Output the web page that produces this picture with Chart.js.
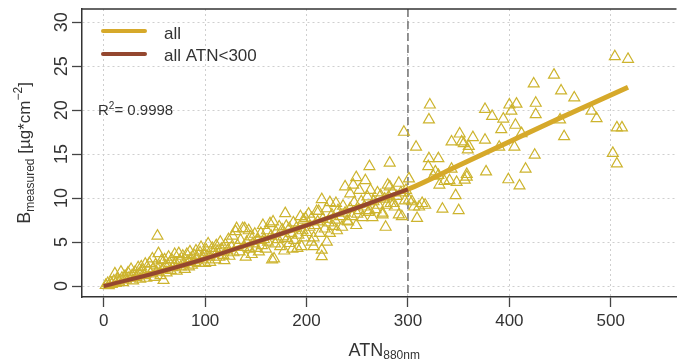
<!DOCTYPE html>
<html><head><meta charset="utf-8">
<script src="https://cdn.jsdelivr.net/npm/chart.js@4.4.1/dist/chart.umd.min.js"></script>
<style>html,body{margin:0;padding:0;background:#fff;}#wrap{width:684px;height:362px;}</style>
</head><body><div id="wrap"><canvas id="c" width="684" height="362"></canvas></div>
<script>
// ---- data ----
const atnValues = [
  2,4,5,7,8,10,11,12,14,15, 17,18,19,21,22,24,25,27,28,29, 31,32,34,35,36,37,38,40,41,42, 44,45,46,48,49,50,
  51,52,53,54,55,56,57,58,59,60, 61,62,64,65,66,67,68,70,71,72, 74,75,76,78,79,80,82,83,84,85, 86,87,89,90,91,92,94,95,96,97, 99,100,
  101,103,104,105,107,108,110,111,112,114, 115,116,118,119,120,122,123,124,126,127, 128,130,131,132,134,135,137,138,139,140, 141,143,144,145,146,147,149,150,
  152,153,155,156,157,158,160,161,162,164, 165,166,167,168,169,170,172,173,174,176, 177,178,179,180,181,183,183,185,186,187, 188,190,191,192,194,195,196,197,198,199, 200,
  202,203,205,205,207,207,208,210,211,212, 213,215,215,215,216,218,220,220,222,223, 223,225,226,228,229,230,231,233,235,236, 238,238,240,241,243,243,245,246,247,249, 249,250,
  252,252,254,255,257,258,260,261,262,262, 263,265,266,268,270,271,273,275,275,277, 278,279,280,281,282,282,283,285,286,287, 289,291,291,293,294,296,297,298,
  301,301,304,306,308,309,311,314,317,320, 320.7,320.7,321.6,325,327,330,330,331,334,336, 341,343,343,347,348,350,351,353,355,356,
  358,358,359,360,364,376,376,377,383,390, 392,394,399,400,402,405,406,407,410,412, 416,424,425,426,426,444,450,451,454,464,
  481,486,502,504,506,506,511,517
];
const bValues = [
  0.1,0.3,0.05,0.4,0.2,0.6,1.4,0.3,0.8,0.5, 1.6,0.9,0.4,1.1,0.7,1.5,0.9,1.9,1.2,0.6, 1.6,1.0,2.1,1.4,0.8,2.2,1.7,1.2,2.5,0.9, 1.9,2.6,1.4,3.1,2.0,1.0,
  2.4,1.6,5.7,3.7,2.2,1.2,2.9,1.9,0.65,3.0, 2.3,1.5,3.3,2.6,1.8,3.0,2.1,3.6,2.6,1.7, 3.7,2.9,2.2,3.4,2.5,1.9,3.6,2.8,2.2,3.9, 3.1,2.4,3.5,2.7,4.0,3.2,2.6,3.8,4.4,3.0, 3.5,2.6,
  4.1,4.8,3.3,2.7,4.3,3.7,3.0,4.6,3.9,3.3, 5.0,4.2,3.5,2.9,4.7,4.0,5.3,3.4,4.4,5.7, 3.8,6.2,6.55,4.6,3.9,5.2,6.55,4.4,6.55,3.3, 5.0,6.3,4.2,5.6,3.6,4.8,5.9,4.3,
  5.2,3.9,6.0,4.6,6.9,5.3,4.2,6.3,5.0,7.1, 5.7,3.0,7.3,3.1,4.8,6.1,5.3,6.75,4.5,6.4, 5.6,4.0,8.25,6.8,5.4,6.55,4.85,6.0,4.2,7.2, 5.2,6.6,4.3,5.8,7.9,4.5,6.3,7.5,5.5,7.7, 6.1,
  8.2,6.7,5.0,7.7,4.5,5.5,6.9,8.5,7.3,8.5, 6.0,9.85,4.1,3.35,7.6,6.5,8.8,5.0,7.2,9.5, 6.0,8.1,6.8,7.5,9.4,6.3,8.6,7.9,6.7,9.1, 11.3,8.3,7.4,7.3,10.5,8.8,7.9,11.5,9.5,6.9, 12.35,8.2,
  8.6,10.9,9.6,7.8,9.0,12.0,10.15,8.4,8.6,13.6, 10.9,7.8,9.6,8.7,10.6,9.2,10.3,8.1,8.3,9.9, 6.7,9.2,11.5,10.15,11.3,14.0,9.4,10.7,9.4,9.0, 10.2,11.7,8.1,10.6,7.9,17.5,9.7,10.9,
  12.2,9.8,9.6,9.0,15.8,7.7,9.0,9.4,9.2,13.6, 18.9,14.5,20.6,12.5,13.0,14.5,12.6,11.5,8.75,11.9, 12.0,13.3,16.4,10.3,11.8,8.6,17.3,16.4,16.2,12.05,
  12.4,12.7,15.5,15.9,16.9,16.6,20.1,13.0,19.3,15.8, 17.8,19.0,12.1,20.6,19.9,15.8,18.3,20.7,11.4,17.35, 13.3,23.0,14.9,20.8,19.5,24.0,18.9,22.2,17.0,21.4,
  19.9,19.05,15.1,26.1,18.0,13.9,18.0,25.8
];
const fitAllAtn = [0,50,100,150,200,250,300,350,400,450,517];
const fitAllB   = [0,1.45,3.1,5.0,6.9,8.9,11.0,13.7,16.4,19.1,22.6];
const fitLowAtn = [0,50,100,150,200,250,300];
const fitLowB   = [0,1.45,3.1,5.0,6.9,8.9,11.0];
const seriesLabels = ['all','all ATN<300'];
const xTickValues = [0,100,200,300,400,500];
const yTickValues = [0,5,10,15,20,25,30];
const cutoffAtn = 300;
const r2Value = '0.9998';

// ---- styles ----
const COL_ALL = '#D6A92A';
const COL_LOW = '#94472F';
const COL_PTS = '#CDB42E';
const TXT = '#333333';
const FONT = '"Liberation Sans", Arial, sans-serif';

const zip = (xs, ys) => xs.map((v, i) => ({x: v, y: ys[i]}));

function drawParts(ctx, parts, cx, cy, align) {
  let total = 0;
  parts.forEach(p => { ctx.font = p.size + 'px ' + FONT; p.w = ctx.measureText(p.t).width; total += p.w; });
  let x = align === 'left' ? cx : cx - total / 2;
  ctx.textAlign = 'left';
  ctx.textBaseline = 'alphabetic';
  parts.forEach(p => { ctx.font = p.size + 'px ' + FONT; ctx.fillText(p.t, x, cy + p.dy); x += p.w; });
}

const decor = {
  id: 'decor',
  beforeDatasetsDraw(chart) {
    const {ctx, chartArea: a, scales: {x}} = chart;
    const px = x.getPixelForValue(cutoffAtn);
    ctx.save();
    ctx.strokeStyle = '#7a7a7a'; ctx.lineWidth = 1.6; ctx.setLineDash([8, 4]);
    ctx.beginPath(); ctx.moveTo(px, a.top); ctx.lineTo(px, a.bottom); ctx.stroke();
    ctx.restore();
  },
  afterDraw(chart) {
    const {ctx, chartArea: a, scales: {x, y}} = chart;
    ctx.save();
    ctx.strokeStyle = '#333'; ctx.lineWidth = 1.5;
    ctx.beginPath(); ctx.moveTo(a.left, a.top); ctx.lineTo(a.right, a.top); ctx.stroke();
    ctx.fillStyle = TXT;
    yTickValues.forEach(v => {
      const py = y.getPixelForValue(v);
      ctx.save();
      ctx.translate(a.left - 20, py);
      ctx.rotate(-Math.PI / 2);
      ctx.font = '18px ' + FONT; ctx.textAlign = 'center'; ctx.textBaseline = 'middle';
      ctx.fillText(String(v), 0, 0);
      ctx.restore();
    });
    ctx.save();
    ctx.translate(30, (a.top + a.bottom) / 2);
    ctx.rotate(-Math.PI / 2);
    drawParts(ctx, [
      {t: 'B', size: 18, dy: 0},
      {t: 'measured', size: 12, dy: 4},
      {t: ' [\u00B5g*cm', size: 17, dy: 0},
      {t: '\u22122', size: 12, dy: -8},
      {t: ']', size: 17, dy: 0}
    ], 0, 0, 'center');
    ctx.restore();
    drawParts(ctx, [
      {t: 'ATN', size: 18, dy: 0},
      {t: '880nm', size: 12, dy: 3}
    ], (a.left + a.right) / 2 + 5, 356, 'center');
    const ds = chart.data.datasets;
    [[ds[1], 31, 34], [ds[0], 54, 56]].forEach(([d, ly, ty]) => {
      ctx.strokeStyle = d.borderColor; ctx.lineWidth = 4; ctx.lineCap = 'round';
      ctx.beginPath(); ctx.moveTo(103, ly); ctx.lineTo(145, ly); ctx.stroke();
      ctx.fillStyle = TXT; ctx.font = '17px ' + FONT; ctx.textAlign = 'left'; ctx.textBaseline = 'middle';
      ctx.fillText(d.label, 164, ty);
    });
    ctx.fillStyle = TXT;
    drawParts(ctx, [
      {t: 'R', size: 15, dy: 0},
      {t: '2', size: 10, dy: -6},
      {t: '= ' + r2Value, size: 15, dy: 0}
    ], 98, 115, 'left');
    ctx.restore();
  }
};

Chart.defaults.font.family = FONT;
Chart.defaults.color = TXT;

new Chart(document.getElementById('c'), {
  type: 'scatter',
  data: {
    datasets: [
      {type: 'line', label: seriesLabels[1], data: zip(fitLowAtn, fitLowB), borderColor: COL_LOW, borderWidth: 4,
       pointRadius: 0, cubicInterpolationMode: 'monotone', order: 0, fill: false},
      {type: 'line', label: seriesLabels[0], data: zip(fitAllAtn, fitAllB), borderColor: COL_ALL, borderWidth: 5,
       pointRadius: 0, cubicInterpolationMode: 'monotone', order: 1, fill: false},
      {label: 'samples', data: zip(atnValues, bValues), pointStyle: 'triangle', pointRadius: 6.3,
       borderColor: COL_PTS, backgroundColor: 'rgba(255,255,255,0)', borderWidth: 1.2, order: 2}
    ]
  },
  options: {
    responsive: false, animation: false, devicePixelRatio: 1,
    layout: {padding: {top: 9, right: 0, left: 0, bottom: 0}},
    plugins: {legend: {display: false}, tooltip: {enabled: false}},
    scales: {
      x: {
        type: 'linear', min: -21.4, max: 564.8,
        afterBuildTicks: s => { s.ticks = xTickValues.map(v => ({value: v})); },
        afterFit: s => { s.height = 65; },
        grid: {color: '#cfcfcf', lineWidth: 1, tickColor: '#444', tickLength: 10, tickWidth: 1.3, tickBorderDash: []},
        border: {display: true, color: '#333', width: 1.5, dash: [2, 3]},
        ticks: {font: {size: 17}, color: TXT, padding: 4, maxRotation: 0, autoSkip: false}
      },
      y: {
        type: 'linear', min: -1.25, max: 31.5,
        afterBuildTicks: s => { s.ticks = yTickValues.map(v => ({value: v})); },
        afterFit: s => { s.width = 82; },
        grid: {color: '#cfcfcf', lineWidth: 1, tickColor: '#444', tickLength: 10, tickWidth: 1.3, tickBorderDash: []},
        border: {display: true, color: '#333', width: 1.5, dash: [2, 3]},
        ticks: {display: false}
      }
    }
  },
  plugins: [decor]
});
</script></body></html>
